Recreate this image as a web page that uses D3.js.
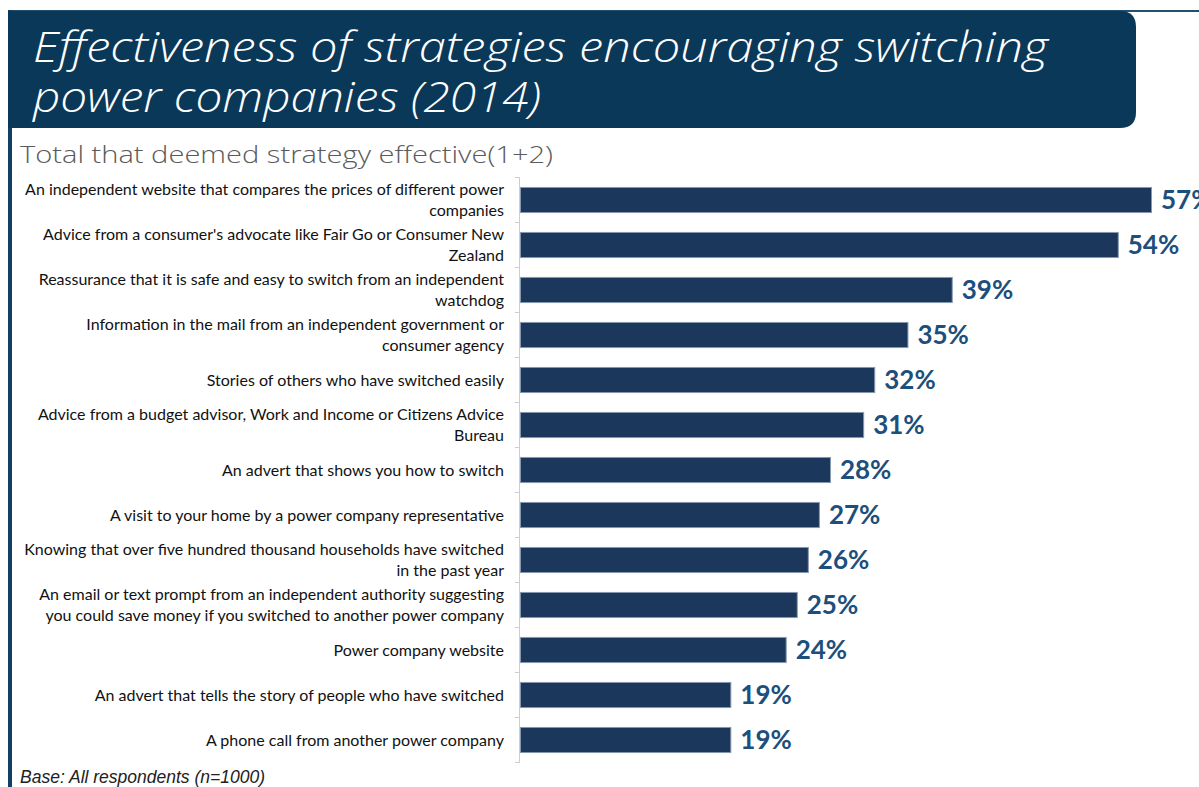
<!DOCTYPE html>
<html>
<head>
<meta charset="utf-8">
<script src="https://cdn.jsdelivr.net/npm/d3@7"></script>
<style>
  html, body { margin: 0; padding: 0; background: #fff; }
  svg { display: block; }
</style>
</head>
<body>
<svg id="chart" width="1199" height="787"></svg>
<script>
// Survey strategies, top to bottom; "\n" marks where a label wraps
const strategies = [
  "An independent  website that compares the prices of different power\ncompanies",
  "Advice from a consumer's advocate like Fair Go or Consumer New\nZealand",
  "Reassurance that it is safe and easy to switch from an independent\nwatchdog",
  "Information in the mail from an independent government or\nconsumer agency",
  "Stories of others who have switched easily",
  "Advice from a budget advisor, Work and Income or Citizens Advice\nBureau",
  "An advert that shows you how to switch",
  "A visit to your home by a power company representative",
  "Knowing that over five hundred thousand households have switched\nin the past year",
  "An email or text prompt from an independent authority suggesting\nyou could save money if you switched to another power company",
  "Power company website",
  "An advert that tells the story of people who have switched",
  "A phone call from another power company"
];
// Share of respondents rating each strategy effective (1+2), percent
const effective = [57, 54, 39, 35, 32, 31, 28, 27, 26, 25, 24, 19, 19];

const titleLines = ["Effectiveness of strategies encouraging switching", "power companies (2014)"];
const subtitle = "Total that deemed strategy effective(1+2)";
const baseNote = "Base: All respondents (n=1000)";

const svg = d3.select("#chart");
const navy = "#0a3858";

// Frame: top rule and left rule
svg.append("rect").attr("x", 8).attr("y", 10).attr("width", 1191).attr("height", 2).attr("fill", "#24506f");
svg.append("rect").attr("x", 8).attr("y", 10).attr("width", 4).attr("height", 777).attr("fill", "#123f63");

// Title panel with rounded right corners
const bx0 = 8, by0 = 11, bx1 = 1136, by1 = 128, r = 16;
svg.append("path")
  .attr("d", `M${bx0},${by0} H${bx1 - r} Q${bx1},${by0} ${bx1},${by0 + r} V${by1 - r} Q${bx1},${by1} ${bx1 - r},${by1} H${bx0} Z`)
  .attr("fill", navy);

const titleFont = "'Open Sans', 'Lato', 'DejaVu Sans', sans-serif";
svg.selectAll("text.title")
  .data(titleLines)
  .join("text")
  .attr("class", "title")
  .attr("x", 33)
  .attr("y", (d, i) => 62 + i * 50)
  .attr("fill", "#ffffff")
  .attr("font-family", titleFont)
  .attr("font-style", "italic")
  .attr("font-weight", 300)
  .attr("font-size", 42)
  .attr("textLength", (d, i) => i === 0 ? 1015 : 508)
  .attr("lengthAdjust", "spacingAndGlyphs")
  .text(d => d);

svg.append("text")
  .attr("x", 20).attr("y", 163)
  .attr("fill", "#5a5a5a")
  .attr("font-family", "'Open Sans', 'Lato', sans-serif")
  .attr("font-weight", 300)
  .attr("font-size", 24)
  .attr("textLength", 533)
  .attr("lengthAdjust", "spacingAndGlyphs")
  .text(subtitle);

// Scales
const x = d3.scaleLinear().domain([0, 100]).range([520, 520 + 1107]);
const y = d3.scaleBand().domain(d3.range(strategies.length)).range([177.5, 762.5]).paddingInner(0.42).paddingOuter(0.21);

// Dotted category axis
const axisX = 519.5;
svg.append("line")
  .attr("x1", axisX).attr("x2", axisX)
  .attr("y1", y.range()[0]).attr("y2", y.range()[1])
  .attr("stroke", "#9a9a9a").attr("stroke-dasharray", "1,1");
const step = y.step();
const boundaries = d3.range(strategies.length + 1).map(i => y.range()[0] + i * step);
svg.selectAll("line.tick")
  .data(boundaries)
  .join("line")
  .attr("class", "tick")
  .attr("x1", axisX - 4).attr("x2", axisX)
  .attr("y1", d => d).attr("y2", d => d)
  .attr("stroke", "#9a9a9a").attr("stroke-dasharray", "1,1");

// Bars
svg.selectAll("rect.bar")
  .data(effective)
  .join("rect")
  .attr("class", "bar")
  .attr("x", x(0) + 0.5)
  .attr("y", (d, i) => y(i) + 0.5)
  .attr("width", d => x(d) - x(0))
  .attr("height", y.bandwidth() - 1)
  .attr("fill", "#1b375c")
  .attr("stroke", "#8799b1")
  .attr("stroke-width", 1);

// Value labels
svg.selectAll("text.value")
  .data(effective)
  .join("text")
  .attr("class", "value")
  .attr("x", d => x(d) + 10)
  .attr("y", (d, i) => y(i) + y.bandwidth() / 2 + 9)
  .attr("fill", "#1c4f7c")
  .attr("font-family", "'Lato', 'Open Sans', sans-serif")
  .attr("font-weight", 700)
  .attr("font-size", 26)
  .text(d => d + "%");

// Category labels, right-aligned, wrapped lines centred on each bar
const lineGap = 21;
const labels = svg.selectAll("text.cat")
  .data(strategies)
  .join("text")
  .attr("class", "cat")
  .attr("text-anchor", "end")
  .attr("fill", "#111")
  .attr("font-family", "'Lato', 'Liberation Sans', sans-serif")
  .attr("font-size", 16);
labels.each(function(d, i) {
  const lines = d.split("\n");
  const cy = y(i) + y.bandwidth() / 2;
  const top = cy - (lines.length - 1) * lineGap / 2;
  d3.select(this).selectAll("tspan")
    .data(lines)
    .join("tspan")
    .attr("x", 504)
    .attr("y", (l, k) => top + k * lineGap + 5.5)
    .text(l => l);
});

svg.append("text")
  .attr("x", 20).attr("y", 783)
  .attr("fill", "#222")
  .attr("font-family", "'Liberation Sans', Arial, sans-serif")
  .attr("font-style", "italic")
  .attr("font-size", 17.5)
  .text(baseNote);
</script>
</body>
</html>
